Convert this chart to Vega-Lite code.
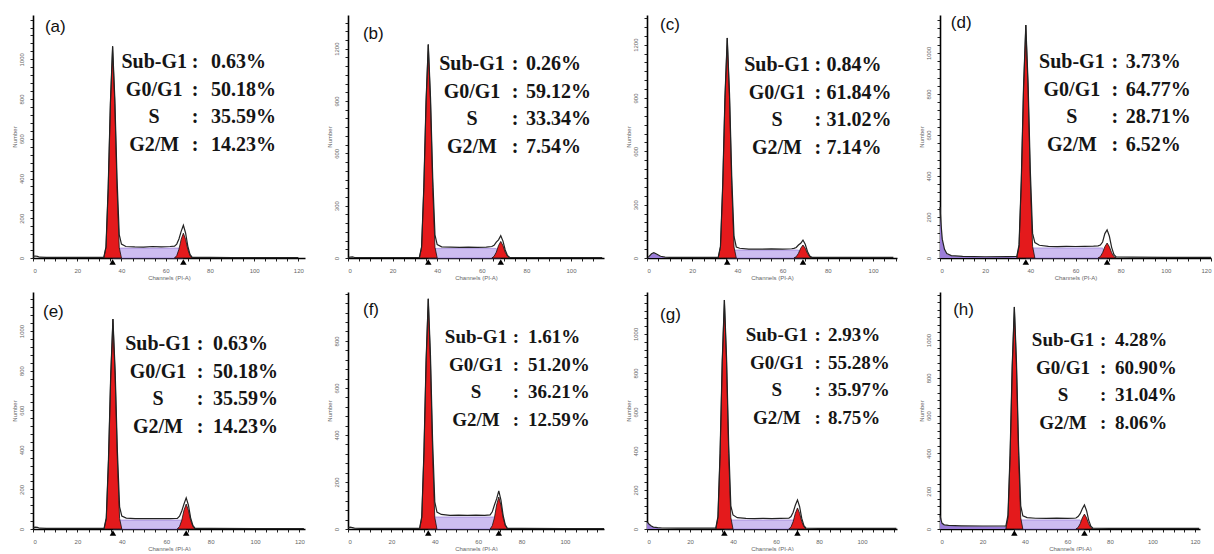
{
"$schema": "https://vega.github.io/schema/vega-lite/v6.json",
"padding": {"left": 10, "top": 13, "right": 0, "bottom": 0},
"background": "white",
"config": {
 "view": {"stroke": null},
 "mark": {"invalid": "filter"},
 "axis": {"domainColor": "#000", "domainWidth": 1.6, "tickColor": "#222", "tickWidth": 1, "tickSize": 3, "labelFontSize": 6, "labelColor": "#666", "titleFontSize": 6, "titleColor": "#666", "titleFontWeight": "normal", "labelFont": "Liberation Sans", "titleFont": "Liberation Sans", "grid": false, "labelOverlap": false, "titlePadding": 1},
 "axisX": {"labelPadding": 6},
 "axisY": {"labelAngle": -90, "labelPadding": 6},
 "text": {"font": "Liberation Serif", "fontWeight": "bold", "baseline": "middle", "color": "#151515"}
},
"datasets": {
 "hist": [
  {"p":"a","x":0,"tot":8},{"p":"a","x":1,"tot":10},{"p":"a","x":2,"tot":8},{"p":"a","x":3,"tot":4},{"p":"a","x":6,"tot":3},{"p":"a","x":12,"tot":3},{"p":"a","x":20,"tot":3},{"p":"a","x":28,"tot":3},
  {"p":"a","x":32,"tot":3,"g1":0},{"p":"a","x":33,"tot":56,"g1":53},{"p":"a","x":34,"tot":354,"g1":351},{"p":"a","x":35,"tot":780,"g1":777},{"p":"a","x":36,"tot":1065,"g1":1065,"sp":0},{"p":"a","x":37,"tot":802,"g1":777},{"p":"a","x":38,"tot":401,"g1":351,"sp":50},{"p":"a","x":39,"tot":118,"g1":53},{"p":"a","x":40,"tot":70,"g1":0},
  {"p":"a","x":42,"tot":58},{"p":"a","x":46,"tot":56},{"p":"a","x":50,"tot":55},{"p":"a","x":54,"tot":58},{"p":"a","x":58,"tot":56},{"p":"a","x":62,"tot":58},
  {"p":"a","x":64,"tot":60,"g2":0},{"p":"a","x":65,"tot":70,"g2":12},{"p":"a","x":66,"tot":96,"g2":44,"sp":50},{"p":"a","x":67,"tot":134,"g2":94},{"p":"a","x":68,"tot":165,"g2":125,"sp":0},{"p":"a","x":69,"tot":126,"g2":94},{"p":"a","x":70,"tot":60,"g2":44},{"p":"a","x":71,"tot":18,"g2":12},{"p":"a","x":72,"tot":3,"g2":0},
  {"p":"a","x":80,"tot":3},{"p":"a","x":90,"tot":2},{"p":"a","x":100,"tot":2},{"p":"a","x":110,"tot":2},{"p":"a","x":120,"tot":2},

  {"p":"b","x":0,"tot":3},{"p":"b","x":1,"tot":5},{"p":"b","x":2,"tot":6},{"p":"b","x":3,"tot":3},{"p":"b","x":8,"tot":3},{"p":"b","x":20,"tot":3},{"p":"b","x":31,"tot":3},
  {"p":"b","x":32,"tot":3,"g1":0},{"p":"b","x":33,"tot":64,"g1":61},{"p":"b","x":34,"tot":407,"g1":404},{"p":"b","x":35,"tot":897,"g1":894},{"p":"b","x":36,"tot":1224,"g1":1224,"sp":0},{"p":"b","x":37,"tot":922,"g1":894},{"p":"b","x":38,"tot":459,"g1":404,"sp":55},{"p":"b","x":39,"tot":133,"g1":61},{"p":"b","x":40,"tot":77,"g1":0},
  {"p":"b","x":42,"tot":64},{"p":"b","x":46,"tot":62},{"p":"b","x":50,"tot":61},{"p":"b","x":54,"tot":62},{"p":"b","x":58,"tot":61},{"p":"b","x":62,"tot":62},
  {"p":"b","x":64.5,"tot":66,"g2":0},{"p":"b","x":65.5,"tot":73,"g2":10},{"p":"b","x":66.5,"tot":91,"g2":33,"sp":55},{"p":"b","x":67.5,"tot":104,"g2":71},{"p":"b","x":68.5,"tot":128,"g2":95,"sp":0},{"p":"b","x":69.5,"tot":97,"g2":71},{"p":"b","x":70.5,"tot":46,"g2":33},{"p":"b","x":71.5,"tot":15,"g2":10},{"p":"b","x":72.5,"tot":3,"g2":0},
  {"p":"b","x":80,"tot":3},{"p":"b","x":90,"tot":2},{"p":"b","x":100,"tot":2},{"p":"b","x":114,"tot":2},

  {"p":"c","x":0.5,"tot":3,"sub":0},{"p":"c","x":2,"tot":24,"sub":22},{"p":"c","x":3,"tot":30,"sub":28},{"p":"c","x":4,"tot":24,"sub":22},{"p":"c","x":6,"tot":10,"sub":8},{"p":"c","x":8,"tot":5,"sub":3},{"p":"c","x":10,"tot":4,"sub":0},{"p":"c","x":20,"tot":4},{"p":"c","x":30,"tot":4},
  {"p":"c","x":31.5,"tot":4,"g1":0},{"p":"c","x":32.5,"tot":66,"g1":62},{"p":"c","x":33.5,"tot":413,"g1":409},{"p":"c","x":34.5,"tot":908,"g1":904},{"p":"c","x":35.5,"tot":1238,"g1":1238,"sp":0},{"p":"c","x":36.5,"tot":927,"g1":904},{"p":"c","x":37.5,"tot":454,"g1":409,"sp":45},{"p":"c","x":38.5,"tot":121,"g1":62},{"p":"c","x":39.5,"tot":62,"g1":0},
  {"p":"c","x":41,"tot":55},{"p":"c","x":45,"tot":50},{"p":"c","x":50,"tot":50},{"p":"c","x":55,"tot":51},{"p":"c","x":60,"tot":50},{"p":"c","x":64,"tot":52},
  {"p":"c","x":65,"tot":54,"g2":0},{"p":"c","x":66,"tot":59,"g2":7},{"p":"c","x":67,"tot":73,"g2":26,"sp":45},{"p":"c","x":68,"tot":83,"g2":55},{"p":"c","x":69,"tot":101,"g2":73,"sp":0},{"p":"c","x":70,"tot":77,"g2":55},{"p":"c","x":71,"tot":37,"g2":26},{"p":"c","x":72,"tot":11,"g2":7},{"p":"c","x":73,"tot":4,"g2":0},
  {"p":"c","x":80,"tot":3},{"p":"c","x":90,"tot":3},{"p":"c","x":100,"tot":3},{"p":"c","x":109,"tot":3},

  {"p":"d","x":0,"tot":249,"sub":249},{"p":"d","x":0.5,"tot":160,"sub":160},{"p":"d","x":1,"tot":92,"sub":90},{"p":"d","x":2,"tot":42,"sub":40},{"p":"d","x":3,"tot":22,"sub":20},{"p":"d","x":5,"tot":12,"sub":10},{"p":"d","x":10,"tot":8,"sub":6},{"p":"d","x":20,"tot":6,"sub":5},{"p":"d","x":30,"tot":7,"sub":5},
  {"p":"d","x":34,"tot":8,"sub":4,"g1":0},{"p":"d","x":35,"tot":64,"g1":57},{"p":"d","x":36,"tot":382,"g1":375,"sub":0},{"p":"d","x":37,"tot":836,"g1":829},{"p":"d","x":38,"tot":1136,"g1":1136,"sp":0},{"p":"d","x":39,"tot":854,"g1":829},{"p":"d","x":40,"tot":424,"g1":375,"sp":49},{"p":"d","x":41,"tot":120,"g1":57},{"p":"d","x":42,"tot":75,"g1":0},
  {"p":"d","x":44,"tot":62},{"p":"d","x":48,"tot":57},{"p":"d","x":52,"tot":55},{"p":"d","x":56,"tot":57},{"p":"d","x":60,"tot":56},{"p":"d","x":64,"tot":57},{"p":"d","x":68,"tot":58},
  {"p":"d","x":70,"tot":59,"g2":0},{"p":"d","x":71,"tot":63,"g2":7},{"p":"d","x":72,"tot":78,"g2":26,"sp":49},{"p":"d","x":73,"tot":119,"g2":55},{"p":"d","x":74,"tot":137,"g2":73,"sp":0},{"p":"d","x":75,"tot":106,"g2":55},{"p":"d","x":76,"tot":52,"g2":26},{"p":"d","x":77,"tot":17,"g2":7},{"p":"d","x":78,"tot":5,"g2":0},
  {"p":"d","x":85,"tot":4},{"p":"d","x":100,"tot":3},{"p":"d","x":120,"tot":3},

  {"p":"e","x":0,"tot":7},{"p":"e","x":1,"tot":9},{"p":"e","x":2,"tot":8},{"p":"e","x":3,"tot":4},{"p":"e","x":6,"tot":3},{"p":"e","x":20,"tot":3},{"p":"e","x":31,"tot":3},
  {"p":"e","x":32,"tot":3,"g1":0},{"p":"e","x":33,"tot":56,"g1":53},{"p":"e","x":34,"tot":353,"g1":350},{"p":"e","x":35,"tot":777,"g1":774},{"p":"e","x":36,"tot":1060,"g1":1060,"sp":0},{"p":"e","x":37,"tot":797,"g1":774},{"p":"e","x":38,"tot":395,"g1":350,"sp":45},{"p":"e","x":39,"tot":112,"g1":53},{"p":"e","x":40,"tot":65,"g1":0},
  {"p":"e","x":42,"tot":55},{"p":"e","x":46,"tot":52},{"p":"e","x":50,"tot":53},{"p":"e","x":54,"tot":52},{"p":"e","x":58,"tot":53},{"p":"e","x":62,"tot":52},{"p":"e","x":64,"tot":53},
  {"p":"e","x":65,"tot":54,"g2":0},{"p":"e","x":66,"tot":65,"g2":13},{"p":"e","x":67,"tot":91,"g2":44,"sp":45},{"p":"e","x":68,"tot":126,"g2":95},{"p":"e","x":69,"tot":157,"g2":126,"sp":0},{"p":"e","x":70,"tot":120,"g2":95},{"p":"e","x":71,"tot":56,"g2":44},{"p":"e","x":72,"tot":18,"g2":13},{"p":"e","x":73,"tot":3,"g2":0},
  {"p":"e","x":80,"tot":3},{"p":"e","x":100,"tot":2},{"p":"e","x":122,"tot":2},

  {"p":"f","x":0,"tot":6},{"p":"f","x":1,"tot":8},{"p":"f","x":2,"tot":6},{"p":"f","x":3,"tot":4},{"p":"f","x":6,"tot":3},{"p":"f","x":20,"tot":3},{"p":"f","x":32,"tot":3},
  {"p":"f","x":33,"tot":3,"g1":0},{"p":"f","x":34,"tot":52,"g1":49},{"p":"f","x":35,"tot":326,"g1":323},{"p":"f","x":36,"tot":718,"g1":715},{"p":"f","x":37,"tot":979,"g1":979,"sp":0},{"p":"f","x":38,"tot":741,"g1":715},{"p":"f","x":39,"tot":374,"g1":323,"sp":51},{"p":"f","x":40,"tot":115,"g1":49},{"p":"f","x":41,"tot":72,"g1":0},
  {"p":"f","x":43,"tot":62},{"p":"f","x":47,"tot":58},{"p":"f","x":51,"tot":59},{"p":"f","x":55,"tot":58},{"p":"f","x":59,"tot":59},{"p":"f","x":63,"tot":58},
  {"p":"f","x":65.5,"tot":60,"g2":0},{"p":"f","x":66.5,"tot":73,"g2":14},{"p":"f","x":67.5,"tot":102,"g2":48,"sp":51},{"p":"f","x":68.5,"tot":128,"g2":102},{"p":"f","x":69.5,"tot":162,"g2":136,"sp":0},{"p":"f","x":70.5,"tot":123,"g2":102},{"p":"f","x":71.5,"tot":58,"g2":48},{"p":"f","x":72.5,"tot":18,"g2":14},{"p":"f","x":73.5,"tot":3,"g2":0},
  {"p":"f","x":80,"tot":3},{"p":"f","x":100,"tot":2},{"p":"f","x":118,"tot":2},

  {"p":"g","x":0,"tot":38,"sub":36},{"p":"g","x":1,"tot":24,"sub":22},{"p":"g","x":2,"tot":15,"sub":14},{"p":"g","x":3,"tot":10,"sub":9},{"p":"g","x":5,"tot":7,"sub":5},{"p":"g","x":7,"tot":5,"sub":0},{"p":"g","x":14,"tot":4},{"p":"g","x":20,"tot":4},{"p":"g","x":31,"tot":4},
  {"p":"g","x":32,"tot":4,"g1":0},{"p":"g","x":33,"tot":63,"g1":59},{"p":"g","x":34,"tot":391,"g1":387},{"p":"g","x":35,"tot":861,"g1":857},{"p":"g","x":36,"tot":1174,"g1":1174,"sp":0},{"p":"g","x":37,"tot":880,"g1":857},{"p":"g","x":38,"tot":433,"g1":387,"sp":46},{"p":"g","x":39,"tot":119,"g1":59},{"p":"g","x":40,"tot":72,"g1":0},
  {"p":"g","x":42,"tot":58},{"p":"g","x":46,"tot":54},{"p":"g","x":50,"tot":53},{"p":"g","x":54,"tot":54},{"p":"g","x":58,"tot":53},{"p":"g","x":62,"tot":54},
  {"p":"g","x":66,"tot":55,"g2":0},{"p":"g","x":67,"tot":64,"g2":11},{"p":"g","x":68,"tot":86,"g2":38,"sp":46},{"p":"g","x":69,"tot":122,"g2":81},{"p":"g","x":70,"tot":149,"g2":108,"sp":0},{"p":"g","x":71,"tot":114,"g2":81},{"p":"g","x":72,"tot":54,"g2":38},{"p":"g","x":73,"tot":17,"g2":11},{"p":"g","x":74,"tot":4,"g2":0},
  {"p":"g","x":80,"tot":3},{"p":"g","x":100,"tot":3},{"p":"g","x":116,"tot":3},

  {"p":"h","x":0,"tot":72,"sub":70},{"p":"h","x":0.5,"tot":47,"sub":45},{"p":"h","x":1,"tot":30,"sub":28},{"p":"h","x":2,"tot":22,"sub":20},{"p":"h","x":4,"tot":19,"sub":17},{"p":"h","x":10,"tot":17,"sub":15},{"p":"h","x":20,"tot":16,"sub":14},{"p":"h","x":30,"tot":16,"sub":13},
  {"p":"h","x":31,"tot":15,"sub":12,"g1":0},{"p":"h","x":32,"tot":74,"g1":59,"sub":10},{"p":"h","x":33,"tot":400,"g1":388,"sub":8},{"p":"h","x":34,"tot":868,"g1":858},{"p":"h","x":35,"tot":1175,"g1":1175,"sp":0,"sub":0},{"p":"h","x":36,"tot":882,"g1":858},{"p":"h","x":37,"tot":436,"g1":388,"sp":48},{"p":"h","x":38,"tot":123,"g1":59},{"p":"h","x":39,"tot":70,"g1":0},
  {"p":"h","x":41,"tot":60},{"p":"h","x":45,"tot":57},{"p":"h","x":50,"tot":56},{"p":"h","x":55,"tot":58},{"p":"h","x":60,"tot":56},{"p":"h","x":63,"tot":57},
  {"p":"h","x":64,"tot":58,"g2":0},{"p":"h","x":65,"tot":66,"g2":8},{"p":"h","x":66,"tot":81,"g2":28,"sp":48},{"p":"h","x":67,"tot":107,"g2":59},{"p":"h","x":68,"tot":127,"g2":79,"sp":0},{"p":"h","x":69,"tot":97,"g2":59},{"p":"h","x":70,"tot":47,"g2":28},{"p":"h","x":71,"tot":15,"g2":8},{"p":"h","x":72,"tot":4,"g2":0},
  {"p":"h","x":80,"tot":3},{"p":"h","x":100,"tot":3},{"p":"h","x":122,"tot":3}
 ],
 "marks": [
  {"p":"a","ch":36},{"p":"a","ch":68},{"p":"b","ch":36},{"p":"b","ch":68.5},{"p":"c","ch":35.5},{"p":"c","ch":69},{"p":"d","ch":38},{"p":"d","ch":74},
  {"p":"e","ch":36},{"p":"e","ch":69},{"p":"f","ch":37},{"p":"f","ch":69.5},{"p":"g","ch":36},{"p":"g","ch":70},{"p":"h","ch":35},{"p":"h","ch":68}
 ],
 "labels": [
  {"p":"a","lab":"(a)"},{"p":"b","lab":"(b)"},{"p":"c","lab":"(c)"},{"p":"d","lab":"(d)"},{"p":"e","lab":"(e)"},{"p":"f","lab":"(f)"},{"p":"g","lab":"(g)"},{"p":"h","lab":"(h)"}
 ],
 "stats": [
  {"p":"a","line":1,"ph":"Sub-G1","v":"0.63%"},{"p":"a","line":2,"ph":"G0/G1","v":"50.18%"},{"p":"a","line":3,"ph":"S","v":"35.59%"},{"p":"a","line":4,"ph":"G2/M","v":"14.23%"},
  {"p":"b","line":1,"ph":"Sub-G1","v":"0.26%"},{"p":"b","line":2,"ph":"G0/G1","v":"59.12%"},{"p":"b","line":3,"ph":"S","v":"33.34%"},{"p":"b","line":4,"ph":"G2/M","v":"7.54%"},
  {"p":"c","line":1,"ph":"Sub-G1","v":"0.84%"},{"p":"c","line":2,"ph":"G0/G1","v":"61.84%"},{"p":"c","line":3,"ph":"S","v":"31.02%"},{"p":"c","line":4,"ph":"G2/M","v":"7.14%"},
  {"p":"d","line":1,"ph":"Sub-G1","v":"3.73%"},{"p":"d","line":2,"ph":"G0/G1","v":"64.77%"},{"p":"d","line":3,"ph":"S","v":"28.71%"},{"p":"d","line":4,"ph":"G2/M","v":"6.52%"},
  {"p":"e","line":1,"ph":"Sub-G1","v":"0.63%"},{"p":"e","line":2,"ph":"G0/G1","v":"50.18%"},{"p":"e","line":3,"ph":"S","v":"35.59%"},{"p":"e","line":4,"ph":"G2/M","v":"14.23%"},
  {"p":"f","line":1,"ph":"Sub-G1","v":"1.61%"},{"p":"f","line":2,"ph":"G0/G1","v":"51.20%"},{"p":"f","line":3,"ph":"S","v":"36.21%"},{"p":"f","line":4,"ph":"G2/M","v":"12.59%"},
  {"p":"g","line":1,"ph":"Sub-G1","v":"2.93%"},{"p":"g","line":2,"ph":"G0/G1","v":"55.28%"},{"p":"g","line":3,"ph":"S","v":"35.97%"},{"p":"g","line":4,"ph":"G2/M","v":"8.75%"},
  {"p":"h","line":1,"ph":"Sub-G1","v":"4.28%"},{"p":"h","line":2,"ph":"G0/G1","v":"60.90%"},{"p":"h","line":3,"ph":"S","v":"31.04%"},{"p":"h","line":4,"ph":"G2/M","v":"8.06%"}
 ]
},
"columns": 4,
"spacing": {"row": 34, "column": 43},
"bounds": "flush",
"concat": [
 {"width": 272, "height": 243, "data": {"name": "hist"}, "transform": [{"filter": "datum.p=='a'"}], "resolve": {"axis": {"x": "independent", "y": "independent"}},
  "layer": [
   {"mark": {"type": "area", "color": "#9b7dd8", "invalid": "filter"}, "encoding": {"x": {"field": "x", "type": "quantitative", "axis": null}, "y": {"field": "sub", "type": "quantitative", "stack": null, "axis": null}}},
   {"mark": {"type": "area", "color": "#cdbdf0", "stroke": "#8c6fd2", "strokeWidth": 0.6, "invalid": "filter"}, "encoding": {"x": {"field": "x", "type": "quantitative", "axis": null}, "y": {"field": "sp", "type": "quantitative", "stack": null, "axis": null}}},
   {"mark": {"type": "area", "color": "#e41a1c", "stroke": "#111", "strokeWidth": 0.8, "invalid": "filter"}, "encoding": {"x": {"field": "x", "type": "quantitative", "axis": null}, "y": {"field": "g1", "type": "quantitative", "stack": null, "axis": null}}},
   {"mark": {"type": "area", "color": "#e41a1c", "stroke": "#111", "strokeWidth": 0.8, "invalid": "filter"}, "encoding": {"x": {"field": "x", "type": "quantitative", "axis": null}, "y": {"field": "g2", "type": "quantitative", "stack": null, "axis": null}}},
   {"mark": {"type": "line", "color": "#222", "strokeWidth": 1.2}, "encoding": {
     "x": {"field": "x", "type": "quantitative", "scale": {"domain": [0, 123], "nice": false}, "axis": {"orient": "bottom", "title": "Channels (PI-A)", "values": [0,5,10,15,20,25,30,35,40,45,50,55,60,65,70,75,80,85,90,95,100,105,110,115,120], "labelExpr": "datum.value % 20 == 0 ? datum.label : ''"}},
     "y": {"field": "tot", "type": "quantitative", "scale": {"domain": [0, 1223], "nice": false}, "axis": {"orient": "left", "title": "Number", "format": "d", "values": [0,40,80,120,160,200,240,280,320,360,400,440,480,520,560,600,640,680,720,760,800,840,880,920,960,1000,1040,1080,1120,1160,1200], "labelExpr": "datum.value % 200 == 0 && datum.value <= 1000 ? datum.label : ''"}}}},
   {"data": {"name": "marks"}, "transform": [{"filter": "datum.p=='a'"}], "mark": {"type": "point", "shape": "triangle-up", "filled": true, "color": "#000", "size": 42, "yOffset": 4, "opacity": 1}, "encoding": {"x": {"field": "ch", "type": "quantitative", "axis": null}, "y": {"datum": 0, "type": "quantitative", "axis": null}}},
   {"data": {"name": "stats"}, "transform": [{"filter": "datum.p=='a'"}], "mark": {"type": "text", "fontSize": 20, "align": "center"}, "encoding": {"x": {"datum": 54.8, "type": "quantitative", "axis": null}, "y": {"datum": 986, "type": "quantitative", "axis": null}, "yOffset": {"field": "line", "type": "quantitative", "scale": {"domain": [1, 4], "range": [0, 83], "zero": false, "nice": false}}, "text": {"field": "ph"}}},
   {"data": {"name": "stats"}, "transform": [{"filter": "datum.p=='a'"}], "mark": {"type": "text", "fontSize": 20, "align": "center", "text": ":"}, "encoding": {"x": {"datum": 73.3, "type": "quantitative", "axis": null}, "y": {"datum": 986, "type": "quantitative", "axis": null}, "yOffset": {"field": "line", "type": "quantitative", "scale": {"domain": [1, 4], "range": [0, 83], "zero": false, "nice": false}}}},
   {"data": {"name": "stats"}, "transform": [{"filter": "datum.p=='a'"}], "mark": {"type": "text", "fontSize": 20, "align": "left"}, "encoding": {"x": {"datum": 80.5, "type": "quantitative", "axis": null}, "y": {"datum": 986, "type": "quantitative", "axis": null}, "yOffset": {"field": "line", "type": "quantitative", "scale": {"domain": [1, 4], "range": [0, 83], "zero": false, "nice": false}}, "text": {"field": "v"}}},
   {"data": {"name": "labels"}, "transform": [{"filter": "datum.p=='a'"}], "mark": {"type": "text", "font": "Liberation Sans", "fontWeight": "normal", "fontSize": 17, "align": "left", "color": "#111"}, "encoding": {"x": {"datum": 5.4, "type": "quantitative", "axis": null}, "y": {"datum": 1163, "type": "quantitative", "axis": null}, "text": {"field": "lab"}}}
  ]},
 {"width": 256, "height": 243, "data": {"name": "hist"}, "transform": [{"filter": "datum.p=='b'"}], "resolve": {"axis": {"x": "independent", "y": "independent"}},
  "layer": [
   {"mark": {"type": "area", "color": "#9b7dd8", "invalid": "filter"}, "encoding": {"x": {"field": "x", "type": "quantitative", "axis": null}, "y": {"field": "sub", "type": "quantitative", "stack": null, "axis": null}}},
   {"mark": {"type": "area", "color": "#cdbdf0", "stroke": "#8c6fd2", "strokeWidth": 0.6, "invalid": "filter"}, "encoding": {"x": {"field": "x", "type": "quantitative", "axis": null}, "y": {"field": "sp", "type": "quantitative", "stack": null, "axis": null}}},
   {"mark": {"type": "area", "color": "#e41a1c", "stroke": "#111", "strokeWidth": 0.8, "invalid": "filter"}, "encoding": {"x": {"field": "x", "type": "quantitative", "axis": null}, "y": {"field": "g1", "type": "quantitative", "stack": null, "axis": null}}},
   {"mark": {"type": "area", "color": "#e41a1c", "stroke": "#111", "strokeWidth": 0.8, "invalid": "filter"}, "encoding": {"x": {"field": "x", "type": "quantitative", "axis": null}, "y": {"field": "g2", "type": "quantitative", "stack": null, "axis": null}}},
   {"mark": {"type": "line", "color": "#222", "strokeWidth": 1.2}, "encoding": {
     "x": {"field": "x", "type": "quantitative", "scale": {"domain": [0, 114.8], "nice": false}, "axis": {"orient": "bottom", "title": "Channels (PI-A)", "values": [0,5,10,15,20,25,30,35,40,45,50,55,60,65,70,75,80,85,90,95,100,105,110], "labelExpr": "datum.value % 20 == 0 ? datum.label : ''"}},
     "y": {"field": "tot", "type": "quantitative", "scale": {"domain": [0, 1393], "nice": false}, "axis": {"orient": "left", "title": "Number", "format": "d", "values": [0,50,100,150,200,250,300,350,400,450,500,550,600,650,700,750,800,850,900,950,1000,1050,1100,1150,1200,1250,1300,1350], "labelExpr": "datum.value % 300 == 0 ? datum.label : ''"}}}},
   {"data": {"name": "marks"}, "transform": [{"filter": "datum.p=='b'"}], "mark": {"type": "point", "shape": "triangle-up", "filled": true, "color": "#000", "size": 42, "yOffset": 4, "opacity": 1}, "encoding": {"x": {"field": "ch", "type": "quantitative", "axis": null}, "y": {"datum": 0, "type": "quantitative", "axis": null}}},
   {"data": {"name": "stats"}, "transform": [{"filter": "datum.p=='b'"}], "mark": {"type": "text", "fontSize": 20, "align": "center"}, "encoding": {"x": {"datum": 55.6, "type": "quantitative", "axis": null}, "y": {"datum": 1112, "type": "quantitative", "axis": null}, "yOffset": {"field": "line", "type": "quantitative", "scale": {"domain": [1, 4], "range": [0, 81], "zero": false, "nice": false}}, "text": {"field": "ph"}}},
   {"data": {"name": "stats"}, "transform": [{"filter": "datum.p=='b'"}], "mark": {"type": "text", "fontSize": 20, "align": "center", "text": ":"}, "encoding": {"x": {"datum": 74.9, "type": "quantitative", "axis": null}, "y": {"datum": 1112, "type": "quantitative", "axis": null}, "yOffset": {"field": "line", "type": "quantitative", "scale": {"domain": [1, 4], "range": [0, 81], "zero": false, "nice": false}}}},
   {"data": {"name": "stats"}, "transform": [{"filter": "datum.p=='b'"}], "mark": {"type": "text", "fontSize": 20, "align": "left"}, "encoding": {"x": {"datum": 79.8, "type": "quantitative", "axis": null}, "y": {"datum": 1112, "type": "quantitative", "axis": null}, "yOffset": {"field": "line", "type": "quantitative", "scale": {"domain": [1, 4], "range": [0, 81], "zero": false, "nice": false}}, "text": {"field": "v"}}},
   {"data": {"name": "labels"}, "transform": [{"filter": "datum.p=='b'"}], "mark": {"type": "text", "font": "Liberation Sans", "fontWeight": "normal", "fontSize": 17, "align": "left", "color": "#111"}, "encoding": {"x": {"datum": 6.7, "type": "quantitative", "axis": null}, "y": {"datum": 1284, "type": "quantitative", "axis": null}, "text": {"field": "lab"}}}
  ]},
 {"width": 250, "height": 243, "data": {"name": "hist"}, "transform": [{"filter": "datum.p=='c'"}], "resolve": {"axis": {"x": "independent", "y": "independent"}},
  "layer": [
   {"mark": {"type": "area", "color": "#9b7dd8", "invalid": "filter"}, "encoding": {"x": {"field": "x", "type": "quantitative", "axis": null}, "y": {"field": "sub", "type": "quantitative", "stack": null, "axis": null}}},
   {"mark": {"type": "area", "color": "#cdbdf0", "stroke": "#8c6fd2", "strokeWidth": 0.6, "invalid": "filter"}, "encoding": {"x": {"field": "x", "type": "quantitative", "axis": null}, "y": {"field": "sp", "type": "quantitative", "stack": null, "axis": null}}},
   {"mark": {"type": "area", "color": "#e41a1c", "stroke": "#111", "strokeWidth": 0.8, "invalid": "filter"}, "encoding": {"x": {"field": "x", "type": "quantitative", "axis": null}, "y": {"field": "g1", "type": "quantitative", "stack": null, "axis": null}}},
   {"mark": {"type": "area", "color": "#e41a1c", "stroke": "#111", "strokeWidth": 0.8, "invalid": "filter"}, "encoding": {"x": {"field": "x", "type": "quantitative", "axis": null}, "y": {"field": "g2", "type": "quantitative", "stack": null, "axis": null}}},
   {"mark": {"type": "line", "color": "#222", "strokeWidth": 1.2}, "encoding": {
     "x": {"field": "x", "type": "quantitative", "scale": {"domain": [0, 110.6], "nice": false}, "axis": {"orient": "bottom", "title": "Channels (PI-A)", "values": [0,5,10,15,20,25,30,35,40,45,50,55,60,65,70,75,80,85,90,95,100,105,110], "labelExpr": "datum.value % 20 == 0 ? datum.label : ''"}},
     "y": {"field": "tot", "type": "quantitative", "scale": {"domain": [0, 1367], "nice": false}, "axis": {"orient": "left", "title": "Number", "format": "d", "values": [0,50,100,150,200,250,300,350,400,450,500,550,600,650,700,750,800,850,900,950,1000,1050,1100,1150,1200,1250,1300,1350], "labelExpr": "datum.value % 300 == 0 ? datum.label : ''"}}}},
   {"data": {"name": "marks"}, "transform": [{"filter": "datum.p=='c'"}], "mark": {"type": "point", "shape": "triangle-up", "filled": true, "color": "#000", "size": 42, "yOffset": 4, "opacity": 1}, "encoding": {"x": {"field": "ch", "type": "quantitative", "axis": null}, "y": {"datum": 0, "type": "quantitative", "axis": null}}},
   {"data": {"name": "stats"}, "transform": [{"filter": "datum.p=='c'"}], "mark": {"type": "text", "fontSize": 20, "align": "center"}, "encoding": {"x": {"datum": 57.5, "type": "quantitative", "axis": null}, "y": {"datum": 1086, "type": "quantitative", "axis": null}, "yOffset": {"field": "line", "type": "quantitative", "scale": {"domain": [1, 4], "range": [0, 84], "zero": false, "nice": false}}, "text": {"field": "ph"}}},
   {"data": {"name": "stats"}, "transform": [{"filter": "datum.p=='c'"}], "mark": {"type": "text", "fontSize": 20, "align": "center", "text": ":"}, "encoding": {"x": {"datum": 75.6, "type": "quantitative", "axis": null}, "y": {"datum": 1086, "type": "quantitative", "axis": null}, "yOffset": {"field": "line", "type": "quantitative", "scale": {"domain": [1, 4], "range": [0, 84], "zero": false, "nice": false}}}},
   {"data": {"name": "stats"}, "transform": [{"filter": "datum.p=='c'"}], "mark": {"type": "text", "fontSize": 20, "align": "left"}, "encoding": {"x": {"datum": 79.4, "type": "quantitative", "axis": null}, "y": {"datum": 1086, "type": "quantitative", "axis": null}, "yOffset": {"field": "line", "type": "quantitative", "scale": {"domain": [1, 4], "range": [0, 84], "zero": false, "nice": false}}, "text": {"field": "v"}}},
   {"data": {"name": "labels"}, "transform": [{"filter": "datum.p=='c'"}], "mark": {"type": "text", "font": "Liberation Sans", "fontWeight": "normal", "fontSize": 17, "align": "left", "color": "#111"}, "encoding": {"x": {"datum": 5.8, "type": "quantitative", "axis": null}, "y": {"datum": 1311, "type": "quantitative", "axis": null}, "text": {"field": "lab"}}}
  ]},
 {"width": 271, "height": 243, "data": {"name": "hist"}, "transform": [{"filter": "datum.p=='d'"}], "resolve": {"axis": {"x": "independent", "y": "independent"}},
  "layer": [
   {"mark": {"type": "area", "color": "#9b7dd8", "invalid": "filter"}, "encoding": {"x": {"field": "x", "type": "quantitative", "axis": null}, "y": {"field": "sub", "type": "quantitative", "stack": null, "axis": null}}},
   {"mark": {"type": "area", "color": "#cdbdf0", "stroke": "#8c6fd2", "strokeWidth": 0.6, "invalid": "filter"}, "encoding": {"x": {"field": "x", "type": "quantitative", "axis": null}, "y": {"field": "sp", "type": "quantitative", "stack": null, "axis": null}}},
   {"mark": {"type": "area", "color": "#e41a1c", "stroke": "#111", "strokeWidth": 0.8, "invalid": "filter"}, "encoding": {"x": {"field": "x", "type": "quantitative", "axis": null}, "y": {"field": "g1", "type": "quantitative", "stack": null, "axis": null}}},
   {"mark": {"type": "area", "color": "#e41a1c", "stroke": "#111", "strokeWidth": 0.8, "invalid": "filter"}, "encoding": {"x": {"field": "x", "type": "quantitative", "axis": null}, "y": {"field": "g2", "type": "quantitative", "stack": null, "axis": null}}},
   {"mark": {"type": "line", "color": "#222", "strokeWidth": 1.2}, "encoding": {
     "x": {"field": "x", "type": "quantitative", "scale": {"domain": [0, 120], "nice": false}, "axis": {"orient": "bottom", "title": "Channels (PI-A)", "values": [0,5,10,15,20,25,30,35,40,45,50,55,60,65,70,75,80,85,90,95,100,105,110,115,120], "labelExpr": "datum.value % 20 == 0 ? datum.label : ''"}},
     "y": {"field": "tot", "type": "quantitative", "scale": {"domain": [0, 1185], "nice": false}, "axis": {"orient": "left", "title": "Number", "format": "d", "values": [0,40,80,120,160,200,240,280,320,360,400,440,480,520,560,600,640,680,720,760,800,840,880,920,960,1000,1040,1080,1120,1160], "labelExpr": "datum.value % 200 == 0 && datum.value <= 1000 ? datum.label : ''"}}}},
   {"data": {"name": "marks"}, "transform": [{"filter": "datum.p=='d'"}], "mark": {"type": "point", "shape": "triangle-up", "filled": true, "color": "#000", "size": 42, "yOffset": 4, "opacity": 1}, "encoding": {"x": {"field": "ch", "type": "quantitative", "axis": null}, "y": {"datum": 0, "type": "quantitative", "axis": null}}},
   {"data": {"name": "stats"}, "transform": [{"filter": "datum.p=='d'"}], "mark": {"type": "text", "fontSize": 20, "align": "center"}, "encoding": {"x": {"datum": 58.4, "type": "quantitative", "axis": null}, "y": {"datum": 956, "type": "quantitative", "axis": null}, "yOffset": {"field": "line", "type": "quantitative", "scale": {"domain": [1, 4], "range": [0, 83], "zero": false, "nice": false}}, "text": {"field": "ph"}}},
   {"data": {"name": "stats"}, "transform": [{"filter": "datum.p=='d'"}], "mark": {"type": "text", "fontSize": 20, "align": "center", "text": ":"}, "encoding": {"x": {"datum": 77.4, "type": "quantitative", "axis": null}, "y": {"datum": 956, "type": "quantitative", "axis": null}, "yOffset": {"field": "line", "type": "quantitative", "scale": {"domain": [1, 4], "range": [0, 83], "zero": false, "nice": false}}}},
   {"data": {"name": "stats"}, "transform": [{"filter": "datum.p=='d'"}], "mark": {"type": "text", "fontSize": 20, "align": "left"}, "encoding": {"x": {"datum": 82.3, "type": "quantitative", "axis": null}, "y": {"datum": 956, "type": "quantitative", "axis": null}, "yOffset": {"field": "line", "type": "quantitative", "scale": {"domain": [1, 4], "range": [0, 83], "zero": false, "nice": false}}, "text": {"field": "v"}}},
   {"data": {"name": "labels"}, "transform": [{"filter": "datum.p=='d'"}], "mark": {"type": "text", "font": "Liberation Sans", "fontWeight": "normal", "fontSize": 17, "align": "left", "color": "#111"}, "encoding": {"x": {"datum": 4.8, "type": "quantitative", "axis": null}, "y": {"datum": 1146, "type": "quantitative", "axis": null}, "text": {"field": "lab"}}}
  ]},
 {"width": 272, "height": 237, "data": {"name": "hist"}, "transform": [{"filter": "datum.p=='e'"}], "resolve": {"axis": {"x": "independent", "y": "independent"}},
  "layer": [
   {"mark": {"type": "area", "color": "#9b7dd8", "invalid": "filter"}, "encoding": {"x": {"field": "x", "type": "quantitative", "axis": null}, "y": {"field": "sub", "type": "quantitative", "stack": null, "axis": null}}},
   {"mark": {"type": "area", "color": "#cdbdf0", "stroke": "#8c6fd2", "strokeWidth": 0.6, "invalid": "filter"}, "encoding": {"x": {"field": "x", "type": "quantitative", "axis": null}, "y": {"field": "sp", "type": "quantitative", "stack": null, "axis": null}}},
   {"mark": {"type": "area", "color": "#e41a1c", "stroke": "#111", "strokeWidth": 0.8, "invalid": "filter"}, "encoding": {"x": {"field": "x", "type": "quantitative", "axis": null}, "y": {"field": "g1", "type": "quantitative", "stack": null, "axis": null}}},
   {"mark": {"type": "area", "color": "#e41a1c", "stroke": "#111", "strokeWidth": 0.8, "invalid": "filter"}, "encoding": {"x": {"field": "x", "type": "quantitative", "axis": null}, "y": {"field": "g2", "type": "quantitative", "stack": null, "axis": null}}},
   {"mark": {"type": "line", "color": "#222", "strokeWidth": 1.2}, "encoding": {
     "x": {"field": "x", "type": "quantitative", "scale": {"domain": [0, 122.5], "nice": false}, "axis": {"orient": "bottom", "title": "Channels (PI-A)", "values": [0,5,10,15,20,25,30,35,40,45,50,55,60,65,70,75,80,85,90,95,100,105,110,115,120], "labelExpr": "datum.value % 20 == 0 ? datum.label : ''"}},
     "y": {"field": "tot", "type": "quantitative", "scale": {"domain": [0, 1197], "nice": false}, "axis": {"orient": "left", "title": "Number", "format": "d", "values": [0,40,80,120,160,200,240,280,320,360,400,440,480,520,560,600,640,680,720,760,800,840,880,920,960,1000,1040,1080,1120,1160], "labelExpr": "datum.value % 200 == 0 && datum.value <= 1000 ? datum.label : ''"}}}},
   {"data": {"name": "marks"}, "transform": [{"filter": "datum.p=='e'"}], "mark": {"type": "point", "shape": "triangle-up", "filled": true, "color": "#000", "size": 42, "yOffset": 4, "opacity": 1}, "encoding": {"x": {"field": "ch", "type": "quantitative", "axis": null}, "y": {"datum": 0, "type": "quantitative", "axis": null}}},
   {"data": {"name": "stats"}, "transform": [{"filter": "datum.p=='e'"}], "mark": {"type": "text", "fontSize": 20, "align": "center"}, "encoding": {"x": {"datum": 56.3, "type": "quantitative", "axis": null}, "y": {"datum": 934, "type": "quantitative", "axis": null}, "yOffset": {"field": "line", "type": "quantitative", "scale": {"domain": [1, 4], "range": [0, 81], "zero": false, "nice": false}}, "text": {"field": "ph"}}},
   {"data": {"name": "stats"}, "transform": [{"filter": "datum.p=='e'"}], "mark": {"type": "text", "fontSize": 20, "align": "center", "text": ":"}, "encoding": {"x": {"datum": 75.2, "type": "quantitative", "axis": null}, "y": {"datum": 934, "type": "quantitative", "axis": null}, "yOffset": {"field": "line", "type": "quantitative", "scale": {"domain": [1, 4], "range": [0, 81], "zero": false, "nice": false}}}},
   {"data": {"name": "stats"}, "transform": [{"filter": "datum.p=='e'"}], "mark": {"type": "text", "fontSize": 20, "align": "left"}, "encoding": {"x": {"datum": 81.1, "type": "quantitative", "axis": null}, "y": {"datum": 934, "type": "quantitative", "axis": null}, "yOffset": {"field": "line", "type": "quantitative", "scale": {"domain": [1, 4], "range": [0, 81], "zero": false, "nice": false}}, "text": {"field": "v"}}},
   {"data": {"name": "labels"}, "transform": [{"filter": "datum.p=='e'"}], "mark": {"type": "text", "font": "Liberation Sans", "fontWeight": "normal", "fontSize": 17, "align": "left", "color": "#111"}, "encoding": {"x": {"datum": 4.5, "type": "quantitative", "axis": null}, "y": {"datum": 1096, "type": "quantitative", "axis": null}, "text": {"field": "lab"}}}
  ]},
 {"width": 256, "height": 237, "data": {"name": "hist"}, "transform": [{"filter": "datum.p=='f'"}], "resolve": {"axis": {"x": "independent", "y": "independent"}},
  "layer": [
   {"mark": {"type": "area", "color": "#9b7dd8", "invalid": "filter"}, "encoding": {"x": {"field": "x", "type": "quantitative", "axis": null}, "y": {"field": "sub", "type": "quantitative", "stack": null, "axis": null}}},
   {"mark": {"type": "area", "color": "#cdbdf0", "stroke": "#8c6fd2", "strokeWidth": 0.6, "invalid": "filter"}, "encoding": {"x": {"field": "x", "type": "quantitative", "axis": null}, "y": {"field": "sp", "type": "quantitative", "stack": null, "axis": null}}},
   {"mark": {"type": "area", "color": "#e41a1c", "stroke": "#111", "strokeWidth": 0.8, "invalid": "filter"}, "encoding": {"x": {"field": "x", "type": "quantitative", "axis": null}, "y": {"field": "g1", "type": "quantitative", "stack": null, "axis": null}}},
   {"mark": {"type": "area", "color": "#e41a1c", "stroke": "#111", "strokeWidth": 0.8, "invalid": "filter"}, "encoding": {"x": {"field": "x", "type": "quantitative", "axis": null}, "y": {"field": "g2", "type": "quantitative", "stack": null, "axis": null}}},
   {"mark": {"type": "line", "color": "#222", "strokeWidth": 1.2}, "encoding": {
     "x": {"field": "x", "type": "quantitative", "scale": {"domain": [0, 118], "nice": false}, "axis": {"orient": "bottom", "title": "Channels (PI-A)", "values": [0,5,10,15,20,25,30,35,40,45,50,55,60,65,70,75,80,85,90,95,100,105,110,115], "labelExpr": "datum.value % 20 == 0 ? datum.label : ''"}},
     "y": {"field": "tot", "type": "quantitative", "scale": {"domain": [0, 1008], "nice": false}, "axis": {"orient": "left", "title": "Number", "format": "d", "values": [0,40,80,120,160,200,240,280,320,360,400,440,480,520,560,600,640,680,720,760,800,840,880,920,960,1000], "labelExpr": "datum.value % 200 == 0 && datum.value <= 800 ? datum.label : ''"}}}},
   {"data": {"name": "marks"}, "transform": [{"filter": "datum.p=='f'"}], "mark": {"type": "point", "shape": "triangle-up", "filled": true, "color": "#000", "size": 42, "yOffset": 4, "opacity": 1}, "encoding": {"x": {"field": "ch", "type": "quantitative", "axis": null}, "y": {"datum": 0, "type": "quantitative", "axis": null}}},
   {"data": {"name": "stats"}, "transform": [{"filter": "datum.p=='f'"}], "mark": {"type": "text", "fontSize": 19, "align": "center"}, "encoding": {"x": {"datum": 59, "type": "quantitative", "axis": null}, "y": {"datum": 817, "type": "quantitative", "axis": null}, "yOffset": {"field": "line", "type": "quantitative", "scale": {"domain": [1, 4], "range": [0, 75], "zero": false, "nice": false}}, "text": {"field": "ph"}}},
   {"data": {"name": "stats"}, "transform": [{"filter": "datum.p=='f'"}], "mark": {"type": "text", "fontSize": 19, "align": "center", "text": ":"}, "encoding": {"x": {"datum": 77.4, "type": "quantitative", "axis": null}, "y": {"datum": 817, "type": "quantitative", "axis": null}, "yOffset": {"field": "line", "type": "quantitative", "scale": {"domain": [1, 4], "range": [0, 75], "zero": false, "nice": false}}}},
   {"data": {"name": "stats"}, "transform": [{"filter": "datum.p=='f'"}], "mark": {"type": "text", "fontSize": 19, "align": "left"}, "encoding": {"x": {"datum": 83, "type": "quantitative", "axis": null}, "y": {"datum": 817, "type": "quantitative", "axis": null}, "yOffset": {"field": "line", "type": "quantitative", "scale": {"domain": [1, 4], "range": [0, 75], "zero": false, "nice": false}}, "text": {"field": "v"}}},
   {"data": {"name": "labels"}, "transform": [{"filter": "datum.p=='f'"}], "mark": {"type": "text", "font": "Liberation Sans", "fontWeight": "normal", "fontSize": 17, "align": "left", "color": "#111"}, "encoding": {"x": {"datum": 6.9, "type": "quantitative", "axis": null}, "y": {"datum": 931, "type": "quantitative", "axis": null}, "text": {"field": "lab"}}}
  ]},
 {"width": 250, "height": 237, "data": {"name": "hist"}, "transform": [{"filter": "datum.p=='g'"}], "resolve": {"axis": {"x": "independent", "y": "independent"}},
  "layer": [
   {"mark": {"type": "area", "color": "#9b7dd8", "invalid": "filter"}, "encoding": {"x": {"field": "x", "type": "quantitative", "axis": null}, "y": {"field": "sub", "type": "quantitative", "stack": null, "axis": null}}},
   {"mark": {"type": "area", "color": "#cdbdf0", "stroke": "#8c6fd2", "strokeWidth": 0.6, "invalid": "filter"}, "encoding": {"x": {"field": "x", "type": "quantitative", "axis": null}, "y": {"field": "sp", "type": "quantitative", "stack": null, "axis": null}}},
   {"mark": {"type": "area", "color": "#e41a1c", "stroke": "#111", "strokeWidth": 0.8, "invalid": "filter"}, "encoding": {"x": {"field": "x", "type": "quantitative", "axis": null}, "y": {"field": "g1", "type": "quantitative", "stack": null, "axis": null}}},
   {"mark": {"type": "area", "color": "#e41a1c", "stroke": "#111", "strokeWidth": 0.8, "invalid": "filter"}, "encoding": {"x": {"field": "x", "type": "quantitative", "axis": null}, "y": {"field": "g2", "type": "quantitative", "stack": null, "axis": null}}},
   {"mark": {"type": "line", "color": "#222", "strokeWidth": 1.2}, "encoding": {
     "x": {"field": "x", "type": "quantitative", "scale": {"domain": [0, 116.3], "nice": false}, "axis": {"orient": "bottom", "title": "Channels (PI-A)", "values": [0,5,10,15,20,25,30,35,40,45,50,55,60,65,70,75,80,85,90,95,100,105,110,115], "labelExpr": "datum.value % 20 == 0 ? datum.label : ''"}},
     "y": {"field": "tot", "type": "quantitative", "scale": {"domain": [0, 1215], "nice": false}, "axis": {"orient": "left", "title": "Number", "format": "d", "values": [0,40,80,120,160,200,240,280,320,360,400,440,480,520,560,600,640,680,720,760,800,840,880,920,960,1000,1040,1080,1120,1160,1200], "labelExpr": "datum.value % 200 == 0 && datum.value <= 1000 ? datum.label : ''"}}}},
   {"data": {"name": "marks"}, "transform": [{"filter": "datum.p=='g'"}], "mark": {"type": "point", "shape": "triangle-up", "filled": true, "color": "#000", "size": 42, "yOffset": 4, "opacity": 1}, "encoding": {"x": {"field": "ch", "type": "quantitative", "axis": null}, "y": {"datum": 0, "type": "quantitative", "axis": null}}},
   {"data": {"name": "stats"}, "transform": [{"filter": "datum.p=='g'"}], "mark": {"type": "text", "fontSize": 19, "align": "center"}, "encoding": {"x": {"datum": 60.4, "type": "quantitative", "axis": null}, "y": {"datum": 994, "type": "quantitative", "axis": null}, "yOffset": {"field": "line", "type": "quantitative", "scale": {"domain": [1, 4], "range": [0, 75], "zero": false, "nice": false}}, "text": {"field": "ph"}}},
   {"data": {"name": "stats"}, "transform": [{"filter": "datum.p=='g'"}], "mark": {"type": "text", "fontSize": 19, "align": "center", "text": ":"}, "encoding": {"x": {"datum": 79.4, "type": "quantitative", "axis": null}, "y": {"datum": 994, "type": "quantitative", "axis": null}, "yOffset": {"field": "line", "type": "quantitative", "scale": {"domain": [1, 4], "range": [0, 75], "zero": false, "nice": false}}}},
   {"data": {"name": "stats"}, "transform": [{"filter": "datum.p=='g'"}], "mark": {"type": "text", "fontSize": 19, "align": "left"}, "encoding": {"x": {"datum": 84.2, "type": "quantitative", "axis": null}, "y": {"datum": 994, "type": "quantitative", "axis": null}, "yOffset": {"field": "line", "type": "quantitative", "scale": {"domain": [1, 4], "range": [0, 75], "zero": false, "nice": false}}, "text": {"field": "v"}}},
   {"data": {"name": "labels"}, "transform": [{"filter": "datum.p=='g'"}], "mark": {"type": "text", "font": "Liberation Sans", "fontWeight": "normal", "fontSize": 17, "align": "left", "color": "#111"}, "encoding": {"x": {"datum": 6.1, "type": "quantitative", "axis": null}, "y": {"datum": 1097, "type": "quantitative", "axis": null}, "text": {"field": "lab"}}}
  ]},
 {"width": 260, "height": 237, "data": {"name": "hist"}, "transform": [{"filter": "datum.p=='h'"}], "resolve": {"axis": {"x": "independent", "y": "independent"}},
  "layer": [
   {"mark": {"type": "area", "color": "#9b7dd8", "invalid": "filter"}, "encoding": {"x": {"field": "x", "type": "quantitative", "axis": null}, "y": {"field": "sub", "type": "quantitative", "stack": null, "axis": null}}},
   {"mark": {"type": "area", "color": "#cdbdf0", "stroke": "#8c6fd2", "strokeWidth": 0.6, "invalid": "filter"}, "encoding": {"x": {"field": "x", "type": "quantitative", "axis": null}, "y": {"field": "sp", "type": "quantitative", "stack": null, "axis": null}}},
   {"mark": {"type": "area", "color": "#e41a1c", "stroke": "#111", "strokeWidth": 0.8, "invalid": "filter"}, "encoding": {"x": {"field": "x", "type": "quantitative", "axis": null}, "y": {"field": "g1", "type": "quantitative", "stack": null, "axis": null}}},
   {"mark": {"type": "area", "color": "#e41a1c", "stroke": "#111", "strokeWidth": 0.8, "invalid": "filter"}, "encoding": {"x": {"field": "x", "type": "quantitative", "axis": null}, "y": {"field": "g2", "type": "quantitative", "stack": null, "axis": null}}},
   {"mark": {"type": "line", "color": "#222", "strokeWidth": 1.2}, "encoding": {
     "x": {"field": "x", "type": "quantitative", "scale": {"domain": [0, 122.4], "nice": false}, "axis": {"orient": "bottom", "title": "Channels (PI-A)", "values": [0,5,10,15,20,25,30,35,40,45,50,55,60,65,70,75,80,85,90,95,100,105,110,115,120], "labelExpr": "datum.value % 20 == 0 ? datum.label : ''"}},
     "y": {"field": "tot", "type": "quantitative", "scale": {"domain": [0, 1254], "nice": false}, "axis": {"orient": "left", "title": "Number", "format": "d", "values": [0,40,80,120,160,200,240,280,320,360,400,440,480,520,560,600,640,680,720,760,800,840,880,920,960,1000,1040,1080,1120,1160,1200,1240], "labelExpr": "datum.value % 200 == 0 && datum.value <= 1000 ? datum.label : ''"}}}},
   {"data": {"name": "marks"}, "transform": [{"filter": "datum.p=='h'"}], "mark": {"type": "point", "shape": "triangle-up", "filled": true, "color": "#000", "size": 42, "yOffset": 4, "opacity": 1}, "encoding": {"x": {"field": "ch", "type": "quantitative", "axis": null}, "y": {"datum": 0, "type": "quantitative", "axis": null}}},
   {"data": {"name": "stats"}, "transform": [{"filter": "datum.p=='h'"}], "mark": {"type": "text", "fontSize": 19, "align": "center"}, "encoding": {"x": {"datum": 57.9, "type": "quantitative", "axis": null}, "y": {"datum": 1000, "type": "quantitative", "axis": null}, "yOffset": {"field": "line", "type": "quantitative", "scale": {"domain": [1, 4], "range": [0, 77], "zero": false, "nice": false}}, "text": {"field": "ph"}}},
   {"data": {"name": "stats"}, "transform": [{"filter": "datum.p=='h'"}], "mark": {"type": "text", "fontSize": 19, "align": "center", "text": ":"}, "encoding": {"x": {"datum": 76.8, "type": "quantitative", "axis": null}, "y": {"datum": 1000, "type": "quantitative", "axis": null}, "yOffset": {"field": "line", "type": "quantitative", "scale": {"domain": [1, 4], "range": [0, 77], "zero": false, "nice": false}}}},
   {"data": {"name": "stats"}, "transform": [{"filter": "datum.p=='h'"}], "mark": {"type": "text", "fontSize": 19, "align": "left"}, "encoding": {"x": {"datum": 82.4, "type": "quantitative", "axis": null}, "y": {"datum": 1000, "type": "quantitative", "axis": null}, "yOffset": {"field": "line", "type": "quantitative", "scale": {"domain": [1, 4], "range": [0, 77], "zero": false, "nice": false}}, "text": {"field": "v"}}},
   {"data": {"name": "labels"}, "transform": [{"filter": "datum.p=='h'"}], "mark": {"type": "text", "font": "Liberation Sans", "fontWeight": "normal", "fontSize": 17, "align": "left", "color": "#111"}, "encoding": {"x": {"datum": 6.2, "type": "quantitative", "axis": null}, "y": {"datum": 1159, "type": "quantitative", "axis": null}, "text": {"field": "lab"}}}
  ]}
]
}
